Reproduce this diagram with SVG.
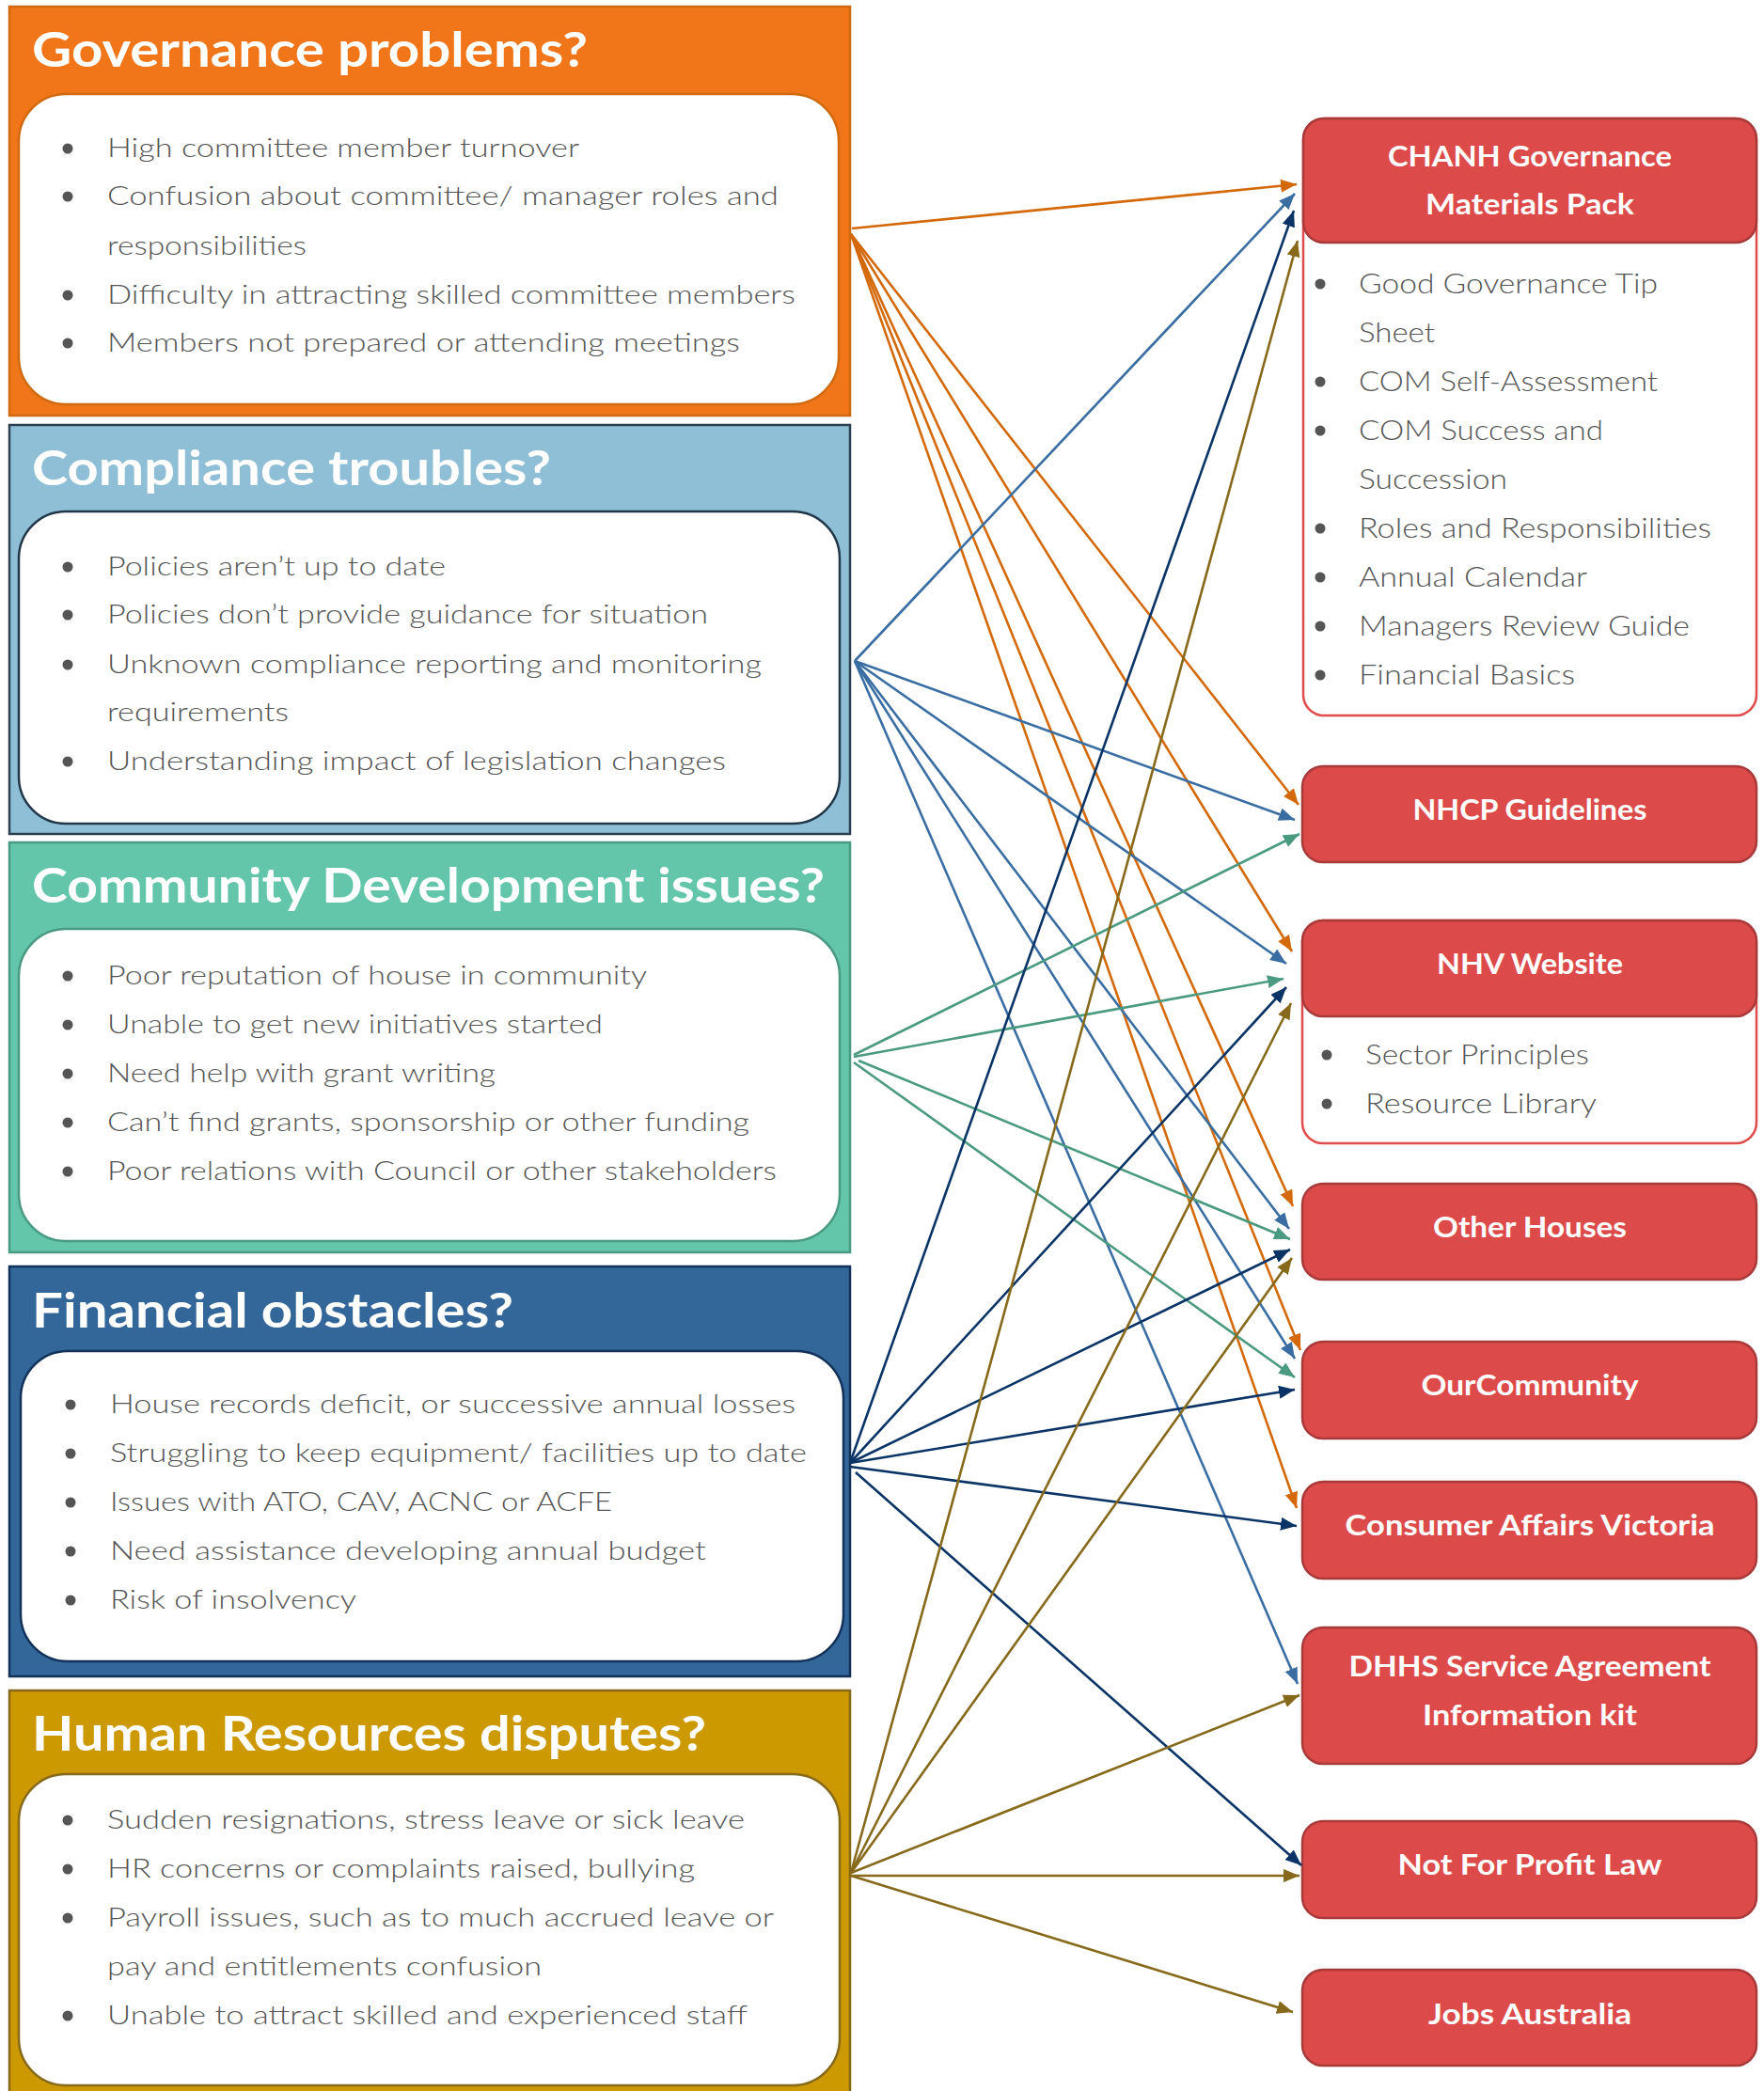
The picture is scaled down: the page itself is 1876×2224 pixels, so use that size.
<svg xmlns="http://www.w3.org/2000/svg" width="1876" height="2224" viewBox="0 0 1876 2224">
<style>
.title{font-family:Lato,"Liberation Sans",sans-serif;font-weight:700;font-size:52px;fill:#ffffff}
.item{font-family:Lato,"Liberation Sans",sans-serif;font-weight:300;font-size:28px;fill:#555555}
.rtitle{font-family:Lato,"Liberation Sans",sans-serif;font-weight:700;font-size:31px;fill:#ffffff;text-anchor:middle}
.ritem{font-family:Lato,"Liberation Sans",sans-serif;font-weight:300;font-size:30px;fill:#555555}
.dot{fill:#555555}
.inner{fill:#ffffff;stroke-width:2.5}
.rbox{fill:#DD4A4A;stroke:#A93A3A;stroke-width:2.5}
.rout{fill:#ffffff;stroke:#E04B4B;stroke-width:2.5}
.c{fill:none;stroke-width:2.6}
</style>
<defs>
<marker id="aO" markerUnits="userSpaceOnUse" markerWidth="18" markerHeight="14" refX="17" refY="7" orient="auto"><path d="M0,0 L17,7 L0,14 z" fill="#D4690A"/></marker>
<marker id="aB" markerUnits="userSpaceOnUse" markerWidth="18" markerHeight="14" refX="17" refY="7" orient="auto"><path d="M0,0 L17,7 L0,14 z" fill="#3A6EA3"/></marker>
<marker id="aT" markerUnits="userSpaceOnUse" markerWidth="18" markerHeight="14" refX="17" refY="7" orient="auto"><path d="M0,0 L17,7 L0,14 z" fill="#4A9A82"/></marker>
<marker id="aN" markerUnits="userSpaceOnUse" markerWidth="18" markerHeight="14" refX="17" refY="7" orient="auto"><path d="M0,0 L17,7 L0,14 z" fill="#0A3466"/></marker>
<marker id="aG" markerUnits="userSpaceOnUse" markerWidth="18" markerHeight="14" refX="17" refY="7" orient="auto"><path d="M0,0 L17,7 L0,14 z" fill="#86691B"/></marker>
</defs>
<rect width="1876" height="2224" fill="#ffffff"/>

<g id="governance">
<rect x="10" y="7" width="894" height="435" fill="#F07619" stroke="#D06A10" stroke-width="2.5"/>
<text class="title" x="34" y="71" textLength="591" lengthAdjust="spacingAndGlyphs">Governance problems?</text>
<rect class="inner" x="20" y="100" width="872" height="330" rx="50" stroke="#D06A10"/>
<circle class="dot" cx="72" cy="158" r="5.5"/><text class="item" x="114" y="167" textLength="502" lengthAdjust="spacingAndGlyphs">High committee member turnover</text>
<circle class="dot" cx="72" cy="209" r="5.5"/><text class="item" x="114" y="218" textLength="714" lengthAdjust="spacingAndGlyphs">Confusion about committee/ manager roles and</text>
<text class="item" x="114" y="271" textLength="212" lengthAdjust="spacingAndGlyphs">responsibilities</text>
<circle class="dot" cx="72" cy="314" r="5.5"/><text class="item" x="114" y="323" textLength="732" lengthAdjust="spacingAndGlyphs">Difficulty in attracting skilled committee members</text>
<circle class="dot" cx="72" cy="365" r="5.5"/><text class="item" x="114" y="374" textLength="673" lengthAdjust="spacingAndGlyphs">Members not prepared or attending meetings</text>
</g>

<g id="compliance">
<rect x="10" y="452" width="894" height="435" fill="#8FBFD6" stroke="#2B4050" stroke-width="2.5"/>
<text class="title" x="34" y="516" textLength="552" lengthAdjust="spacingAndGlyphs">Compliance troubles?</text>
<rect class="inner" x="20" y="544" width="873" height="332" rx="50" stroke="#22384A"/>
<circle class="dot" cx="72" cy="603" r="5.5"/><text class="item" x="114" y="612" textLength="360" lengthAdjust="spacingAndGlyphs">Policies aren’t up to date</text>
<circle class="dot" cx="72" cy="654" r="5.5"/><text class="item" x="114" y="663" textLength="639" lengthAdjust="spacingAndGlyphs">Policies don’t provide guidance for situation</text>
<circle class="dot" cx="72" cy="707" r="5.5"/><text class="item" x="114" y="716" textLength="696" lengthAdjust="spacingAndGlyphs">Unknown compliance reporting and monitoring</text>
<text class="item" x="114" y="767" textLength="193" lengthAdjust="spacingAndGlyphs">requirements</text>
<circle class="dot" cx="72" cy="810" r="5.5"/><text class="item" x="114" y="819" textLength="658" lengthAdjust="spacingAndGlyphs">Understanding impact of legislation changes</text>
</g>

<g id="community">
<rect x="10" y="896" width="894" height="436" fill="#63C6AB" stroke="#4A9A82" stroke-width="2.5"/>
<text class="title" x="34" y="960" textLength="843" lengthAdjust="spacingAndGlyphs">Community Development issues?</text>
<rect class="inner" x="20" y="988" width="873" height="332" rx="50" stroke="#4A9A82"/>
<circle class="dot" cx="72" cy="1038" r="5.5"/><text class="item" x="114" y="1047" textLength="574" lengthAdjust="spacingAndGlyphs">Poor reputation of house in community</text>
<circle class="dot" cx="72" cy="1090" r="5.5"/><text class="item" x="114" y="1099" textLength="527" lengthAdjust="spacingAndGlyphs">Unable to get new initiatives started</text>
<circle class="dot" cx="72" cy="1142" r="5.5"/><text class="item" x="114" y="1151" textLength="413" lengthAdjust="spacingAndGlyphs">Need help with grant writing</text>
<circle class="dot" cx="72" cy="1194" r="5.5"/><text class="item" x="114" y="1203" textLength="683" lengthAdjust="spacingAndGlyphs">Can’t find grants, sponsorship or other funding</text>
<circle class="dot" cx="72" cy="1246" r="5.5"/><text class="item" x="114" y="1255" textLength="712" lengthAdjust="spacingAndGlyphs">Poor relations with Council or other stakeholders</text>
</g>

<g id="financial">
<rect x="10" y="1347" width="894" height="436" fill="#336699" stroke="#13325A" stroke-width="2.5"/>
<text class="title" x="34" y="1412" textLength="512" lengthAdjust="spacingAndGlyphs">Financial obstacles?</text>
<rect class="inner" x="22" y="1437" width="875" height="330" rx="50" stroke="#13325A"/>
<circle class="dot" cx="75" cy="1494" r="5.5"/><text class="item" x="117" y="1503" textLength="729" lengthAdjust="spacingAndGlyphs">House records deficit, or successive annual losses</text>
<circle class="dot" cx="75" cy="1546" r="5.5"/><text class="item" x="117" y="1555" textLength="741" lengthAdjust="spacingAndGlyphs">Struggling to keep equipment/ facilities up to date</text>
<circle class="dot" cx="75" cy="1598" r="5.5"/><text class="item" x="117" y="1607" textLength="534" lengthAdjust="spacingAndGlyphs">Issues with ATO, CAV, ACNC or ACFE</text>
<circle class="dot" cx="75" cy="1650" r="5.5"/><text class="item" x="117" y="1659" textLength="634" lengthAdjust="spacingAndGlyphs">Need assistance developing annual budget</text>
<circle class="dot" cx="75" cy="1702" r="5.5"/><text class="item" x="117" y="1711" textLength="262" lengthAdjust="spacingAndGlyphs">Risk of insolvency</text>
</g>

<g id="hr">
<rect x="10" y="1798" width="894" height="440" fill="#CC9900" stroke="#86691B" stroke-width="2.5"/>
<text class="title" x="34" y="1862" textLength="717" lengthAdjust="spacingAndGlyphs">Human Resources disputes?</text>
<rect class="inner" x="20" y="1887" width="873" height="331" rx="50" stroke="#86691B"/>
<circle class="dot" cx="72" cy="1936" r="5.5"/><text class="item" x="114" y="1945" textLength="678" lengthAdjust="spacingAndGlyphs">Sudden resignations, stress leave or sick leave</text>
<circle class="dot" cx="72" cy="1988" r="5.5"/><text class="item" x="114" y="1997" textLength="625" lengthAdjust="spacingAndGlyphs">HR concerns or complaints raised, bullying</text>
<circle class="dot" cx="72" cy="2040" r="5.5"/><text class="item" x="114" y="2049" textLength="709" lengthAdjust="spacingAndGlyphs">Payroll issues, such as to much accrued leave or</text>
<text class="item" x="114" y="2101" textLength="462" lengthAdjust="spacingAndGlyphs">pay and entitlements confusion</text>
<circle class="dot" cx="72" cy="2144" r="5.5"/><text class="item" x="114" y="2153" textLength="681" lengthAdjust="spacingAndGlyphs">Unable to attract skilled and experienced staff</text>
</g>

<g id="chanh">
<rect class="rout" x="1386" y="126" width="482" height="635" rx="22"/>
<rect class="rbox" x="1386" y="126" width="482" height="132" rx="22"/>
<text class="rtitle" x="1627" y="177" textLength="302" lengthAdjust="spacingAndGlyphs">CHANH Governance</text>
<text class="rtitle" x="1627" y="228" textLength="222" lengthAdjust="spacingAndGlyphs">Materials Pack</text>
<circle class="dot" cx="1404" cy="302" r="5.5"/><text class="ritem" x="1445" y="312" textLength="318" lengthAdjust="spacingAndGlyphs">Good Governance Tip</text>
<text class="ritem" x="1445" y="364" textLength="81" lengthAdjust="spacingAndGlyphs">Sheet</text>
<circle class="dot" cx="1404" cy="406" r="5.5"/><text class="ritem" x="1445" y="416" textLength="318" lengthAdjust="spacingAndGlyphs">COM Self-Assessment</text>
<circle class="dot" cx="1404" cy="458" r="5.5"/><text class="ritem" x="1445" y="468" textLength="260" lengthAdjust="spacingAndGlyphs">COM Success and</text>
<text class="ritem" x="1445" y="520" textLength="158" lengthAdjust="spacingAndGlyphs">Succession</text>
<circle class="dot" cx="1404" cy="562" r="5.5"/><text class="ritem" x="1445" y="572" textLength="375" lengthAdjust="spacingAndGlyphs">Roles and Responsibilities</text>
<circle class="dot" cx="1404" cy="614" r="5.5"/><text class="ritem" x="1445" y="624" textLength="243" lengthAdjust="spacingAndGlyphs">Annual Calendar</text>
<circle class="dot" cx="1404" cy="666" r="5.5"/><text class="ritem" x="1445" y="676" textLength="352" lengthAdjust="spacingAndGlyphs">Managers Review Guide</text>
<circle class="dot" cx="1404" cy="718" r="5.5"/><text class="ritem" x="1445" y="728" textLength="230" lengthAdjust="spacingAndGlyphs">Financial Basics</text>
</g>

<g id="nhcp">
<rect class="rbox" x="1385" y="815" width="483" height="102" rx="22"/>
<text class="rtitle" x="1627" y="872" textLength="249" lengthAdjust="spacingAndGlyphs">NHCP Guidelines</text>
</g>

<g id="nhv">
<rect class="rout" x="1385" y="979" width="483" height="237" rx="22"/>
<rect class="rbox" x="1385" y="979" width="483" height="102" rx="22"/>
<text class="rtitle" x="1627" y="1036" textLength="198" lengthAdjust="spacingAndGlyphs">NHV Website</text>
<circle class="dot" cx="1411" cy="1122" r="5.5"/><text class="ritem" x="1452" y="1132" textLength="238" lengthAdjust="spacingAndGlyphs">Sector Principles</text>
<circle class="dot" cx="1411" cy="1174" r="5.5"/><text class="ritem" x="1452" y="1184" textLength="246" lengthAdjust="spacingAndGlyphs">Resource Library</text>
</g>

<g id="otherhouses">
<rect class="rbox" x="1385" y="1259" width="483" height="102" rx="22"/>
<text class="rtitle" x="1627" y="1316" textLength="206" lengthAdjust="spacingAndGlyphs">Other Houses</text>
</g>

<g id="ourcommunity">
<rect class="rbox" x="1385" y="1427" width="483" height="103" rx="22"/>
<text class="rtitle" x="1627" y="1484" textLength="231" lengthAdjust="spacingAndGlyphs">OurCommunity</text>
</g>

<g id="cav">
<rect class="rbox" x="1385" y="1576" width="483" height="103" rx="22"/>
<text class="rtitle" x="1627" y="1633" textLength="393" lengthAdjust="spacingAndGlyphs">Consumer Affairs Victoria</text>
</g>

<g id="dhhs">
<rect class="rbox" x="1385" y="1731" width="483" height="145" rx="22"/>
<text class="rtitle" x="1627" y="1783" textLength="385" lengthAdjust="spacingAndGlyphs">DHHS Service Agreement</text>
<text class="rtitle" x="1627" y="1835" textLength="228" lengthAdjust="spacingAndGlyphs">Information kit</text>
</g>

<g id="nfplaw">
<rect class="rbox" x="1385" y="1937" width="483" height="103" rx="22"/>
<text class="rtitle" x="1627" y="1994" textLength="281" lengthAdjust="spacingAndGlyphs">Not For Profit Law</text>
</g>

<g id="jobsaustralia">
<rect class="rbox" x="1385" y="2095" width="483" height="102" rx="22"/>
<text class="rtitle" x="1627" y="2153" textLength="216" lengthAdjust="spacingAndGlyphs">Jobs Australia</text>
</g>

<g id="connectors">
<g stroke="#D4690A" marker-end="url(#aO)" class="c">
<line class="c" x1="906" y1="243" x2="1379" y2="196"/>
<line class="c" x1="905" y1="249" x2="1381" y2="856"/>
<line class="c" x1="905" y1="249" x2="1374" y2="1012"/>
<line class="c" x1="905" y1="249" x2="1375" y2="1283"/>
<line class="c" x1="905" y1="249" x2="1383" y2="1436"/>
<line class="c" x1="905" y1="249" x2="1379" y2="1604"/>
</g>
<g stroke="#3A6EA3" marker-end="url(#aB)" class="c">
<line class="c" x1="909" y1="703" x2="1377" y2="206"/>
<line class="c" x1="909" y1="703" x2="1377" y2="872"/>
<line class="c" x1="909" y1="703" x2="1368" y2="1025"/>
<line class="c" x1="909" y1="703" x2="1371" y2="1307"/>
<line class="c" x1="909" y1="703" x2="1377" y2="1445"/>
<line class="c" x1="909" y1="703" x2="1380" y2="1791"/>
</g>
<g stroke="#4A9A82" marker-end="url(#aT)" class="c">
<line class="c" x1="908" y1="1122" x2="1382" y2="887"/>
<line class="c" x1="908" y1="1124" x2="1365" y2="1041"/>
<line class="c" x1="913" y1="1128" x2="1372" y2="1318"/>
<line class="c" x1="908" y1="1130" x2="1377" y2="1465"/>
</g>
<g stroke="#0A3466" marker-end="url(#aN)" class="c">
<line class="c" x1="904" y1="1556" x2="1376" y2="224"/>
<line class="c" x1="904" y1="1556" x2="1368" y2="1050"/>
<line class="c" x1="904" y1="1556" x2="1372" y2="1329"/>
<line class="c" x1="904" y1="1556" x2="1377" y2="1478"/>
<line class="c" x1="904" y1="1560" x2="1379" y2="1623"/>
<line class="c" x1="910" y1="1566" x2="1384" y2="1984"/>
</g>
<g stroke="#86691B" marker-end="url(#aG)" class="c">
<line class="c" x1="905" y1="1992" x2="1380" y2="256"/>
<line class="c" x1="905" y1="1992" x2="1373" y2="1067"/>
<line class="c" x1="905" y1="1992" x2="1374" y2="1338"/>
<line class="c" x1="905" y1="1992" x2="1382" y2="1803"/>
<line class="c" x1="905" y1="1995" x2="1382" y2="1995"/>
<line class="c" x1="905" y1="1995" x2="1375" y2="2140"/>
</g>
</g>
</svg>
